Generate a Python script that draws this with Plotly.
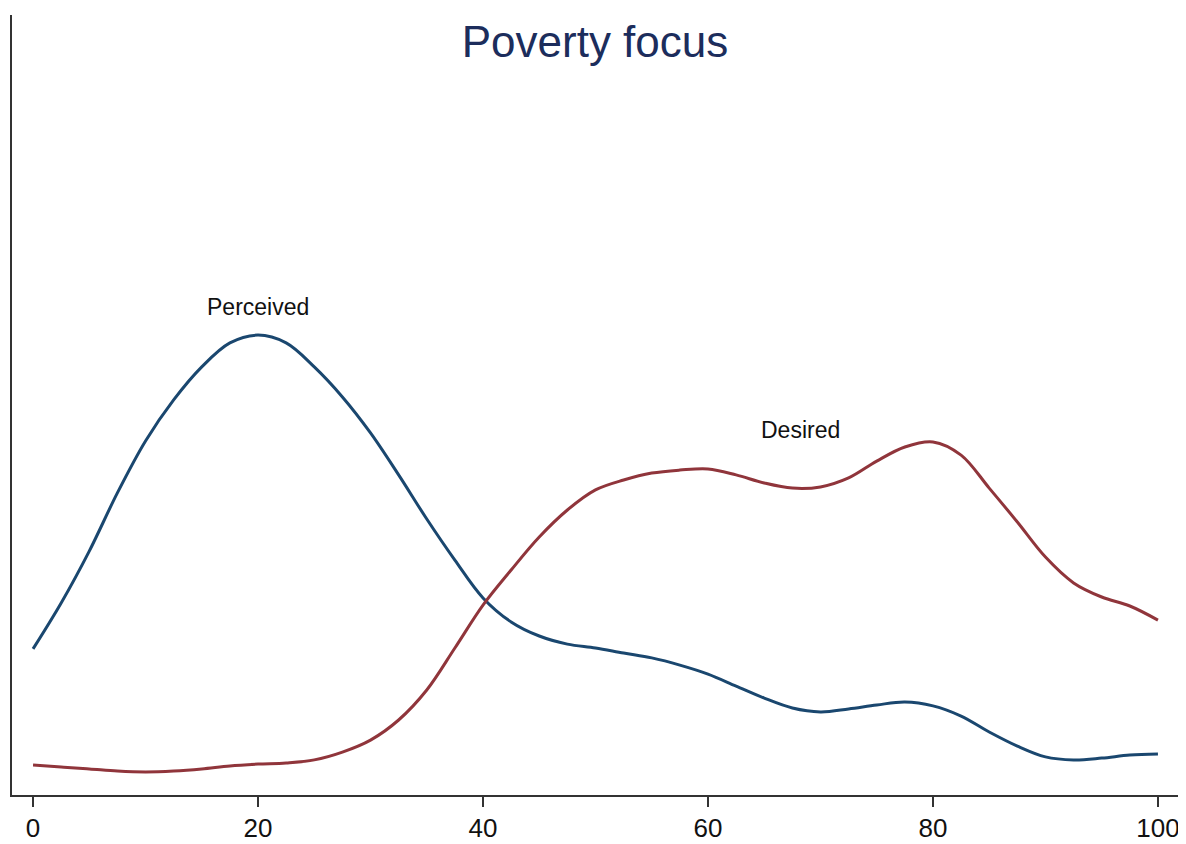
import plotly.graph_objects as go

# Data (density estimates)
x_vals = [0, 2.5, 5, 7.5, 10, 12.5, 15, 17.5, 20, 22.5, 25, 27.5, 30, 32.5, 35, 37.5,
          40, 42.5, 45, 47.5, 50, 52.5, 55, 57.5, 60, 62.5, 65, 67.5, 70, 72.5, 75,
          77.5, 80, 82.5, 85, 87.5, 90, 92.5, 95, 97.5, 100]

perceived = [0.00487, 0.00640, 0.00813, 0.01007, 0.01180, 0.01317, 0.01427, 0.01507,
             0.01533, 0.01507, 0.01427, 0.01327, 0.01207, 0.01067, 0.00920, 0.00783,
             0.00657, 0.00577, 0.00530, 0.00503, 0.00490, 0.00473, 0.00457, 0.00433,
             0.00403, 0.00363, 0.00323, 0.00290, 0.00277, 0.00287, 0.00300, 0.00310,
             0.00297, 0.00263, 0.00210, 0.00163, 0.00127, 0.00117, 0.00123, 0.00133,
             0.00137]

desired = [0.00100, 0.00093, 0.00087, 0.00080, 0.00077, 0.00080, 0.00087, 0.00097,
           0.00103, 0.00107, 0.00117, 0.00143, 0.00183, 0.00250, 0.00350, 0.00490,
           0.00633, 0.00750, 0.00860, 0.00950, 0.01017, 0.01050, 0.01073, 0.01083,
           0.01087, 0.01067, 0.01040, 0.01023, 0.01027, 0.01057, 0.01113, 0.01160,
           0.01177, 0.01133, 0.01023, 0.00910, 0.00793, 0.00707, 0.00660, 0.00630,
           0.00583]

series_names = ["Perceived", "Desired"]
label_x = [20, 68.2]
label_y = [0.01627, 0.01217]
x_ticks = [0, 20, 40, 60, 80, 100]
title_text = "Poverty focus"

BLUE = "#1a476f"
RED = "#90353b"
FONT = "Liberation Sans, Arial, sans-serif"

fig = go.Figure()
for name, ys, col in [(series_names[0], perceived, BLUE), (series_names[1], desired, RED)]:
    fig.add_trace(go.Scatter(x=x_vals, y=ys, mode="lines", name=name,
                             line=dict(color=col, width=3, shape="spline", smoothing=1.0)))

for name, lx, ly in zip(series_names, label_x, label_y):
    fig.add_annotation(x=lx, y=ly, text=name, showarrow=False,
                       font=dict(family=FONT, size=23, color="#111111"),
                       xanchor="center", yanchor="middle")

# Page body adds an 8px margin; figure offset accordingly
W, H = 1178, 836
fig.update_layout(
    width=W, height=H,
    margin=dict(l=4, r=6, t=7, b=49, autoexpand=False),
    paper_bgcolor="white", plot_bgcolor="white",
    showlegend=False,
    title=dict(text=title_text, x=587 / W, xanchor="center", y=1 - 34 / H,
               yref="container", yanchor="middle", automargin=False,
               font=dict(family=FONT, size=44, color="#1c2d5c")),
    font=dict(family=FONT),
)
fig.update_xaxes(range=[-1.87, 101.96], tickmode="array", tickvals=x_ticks,
                 ticktext=[str(t) for t in x_ticks], automargin=False,
                 showgrid=False, zeroline=False, showline=True, linecolor="#333333",
                 linewidth=2, ticks="outside", ticklen=10, tickwidth=2, tickcolor="#333333",
                 ticklabelstandoff=-1, ticklabeloverflow="allow",
                 tickfont=dict(family=FONT, size=26, color="#111111"))
fig.update_yaxes(range=[0, 0.026], showticklabels=False, ticks="", showgrid=False,
                 automargin=False,
                 zeroline=False, showline=True, linecolor="#333333", linewidth=2)

fig.write_html("out.html")
